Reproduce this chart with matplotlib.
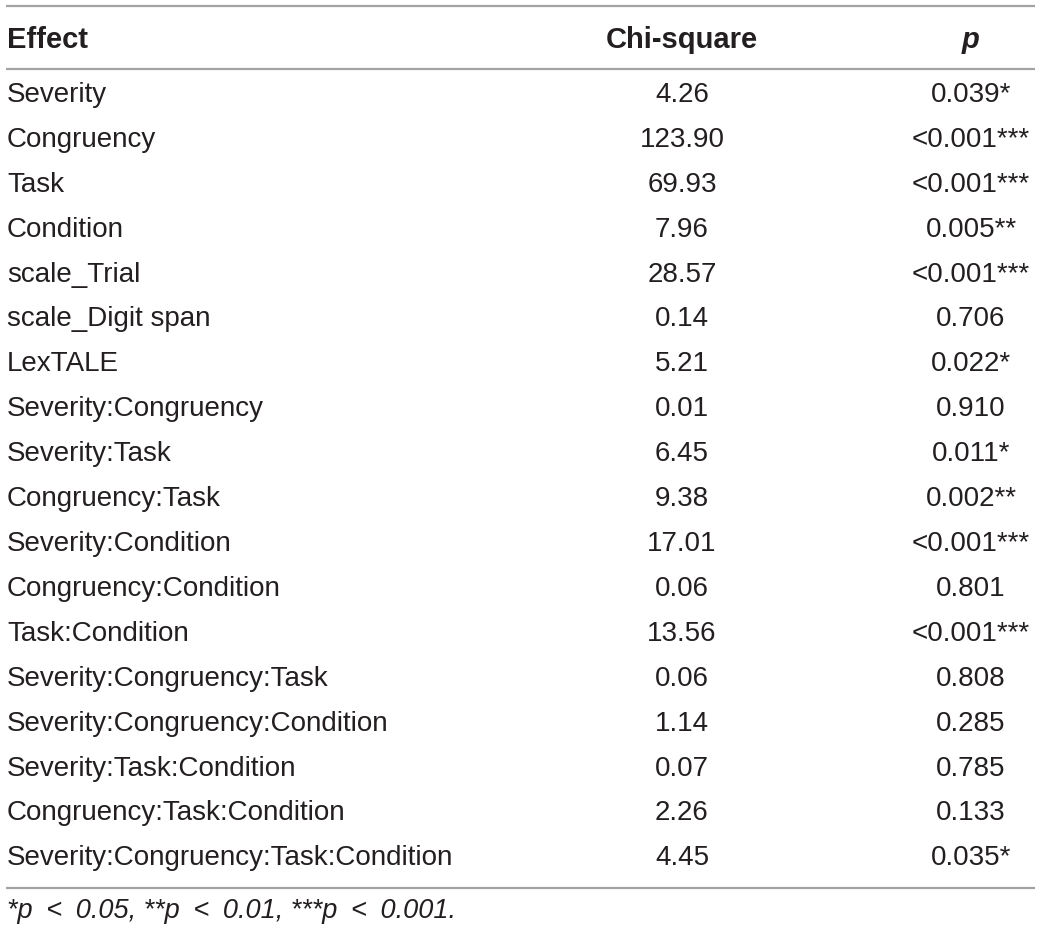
import matplotlib
matplotlib.use("Agg")
import matplotlib.pyplot as plt

# table contents
effects = [
    "Severity", "Congruency", "Task", "Condition", "scale_Trial",
    "scale_Digit span", "LexTALE", "Severity:Congruency", "Severity:Task",
    "Congruency:Task", "Severity:Condition", "Congruency:Condition",
    "Task:Condition", "Severity:Congruency:Task",
    "Severity:Congruency:Condition", "Severity:Task:Condition",
    "Congruency:Task:Condition", "Severity:Congruency:Task:Condition",
]
chi_square = [4.26, 123.90, 69.93, 7.96, 28.57, 0.14, 5.21, 0.01, 6.45,
              9.38, 17.01, 0.06, 13.56, 0.06, 1.14, 0.07, 2.26, 4.45]
p_values = ["0.039", "<0.001", "<0.001", "0.005", "<0.001", "0.706",
            "0.022", "0.910", "0.011", "0.002", "<0.001", "0.801",
            "<0.001", "0.808", "0.285", "0.785", "0.133", "0.035"]
p_stars = ["*", "***", "***", "**", "***", "", "*", "", "*", "**", "***",
           "", "***", "", "", "", "", "*"]
headers = ["Effect", "Chi-square", "p"]
footnote = "*p\u2002<\u20020.05, **p\u2002<\u20020.01, ***p\u2002<\u20020.001."

plt.rcParams["font.family"] = ["Liberation Sans", "DejaVu Sans"]

W, H = 1040, 934
fig = plt.figure(figsize=(W / 100, H / 100), dpi=100)
ax = fig.add_axes([0, 0, 1, 1])
ax.set_xlim(0, W)
ax.set_ylim(H, 0)
ax.axis("off")

txt = "#231f20"
line_col = "#a3a3a3"
fs = 20
x_eff, x_chi, x_p = 7, 682, 971

# rules
for y in (6, 69, 888):
    ax.plot([6, 1035], [y, y], color=line_col, lw=1.6, solid_capstyle="butt")

# header
ax.text(x_eff, 48, headers[0], fontsize=21, fontweight="bold", color=txt, va="baseline", ha="left")
ax.text(x_chi, 48, headers[1], fontsize=21, fontweight="bold", color=txt, va="baseline", ha="center")
ax.text(x_p, 48, headers[2], fontsize=21, fontweight="bold", fontstyle="italic", color=txt,
        va="baseline", ha="center")

# rows
y0, dy = 102, 44.9
for i, (eff, chi, pv, st) in enumerate(zip(effects, chi_square, p_values, p_stars)):
    y = y0 + i * dy
    ax.text(x_eff, y, eff, fontsize=fs, color=txt, va="baseline", ha="left")
    ax.text(x_chi, y, f"{chi:.2f}", fontsize=fs, color=txt, va="baseline", ha="center")
    ax.text(x_p, y, pv + st, fontsize=fs, color=txt, va="baseline", ha="center")

# footnote
ax.text(x_eff, 918, footnote, fontsize=19.5, fontstyle="italic", color=txt, va="baseline", ha="left")

fig.savefig("out.png", dpi=100)
